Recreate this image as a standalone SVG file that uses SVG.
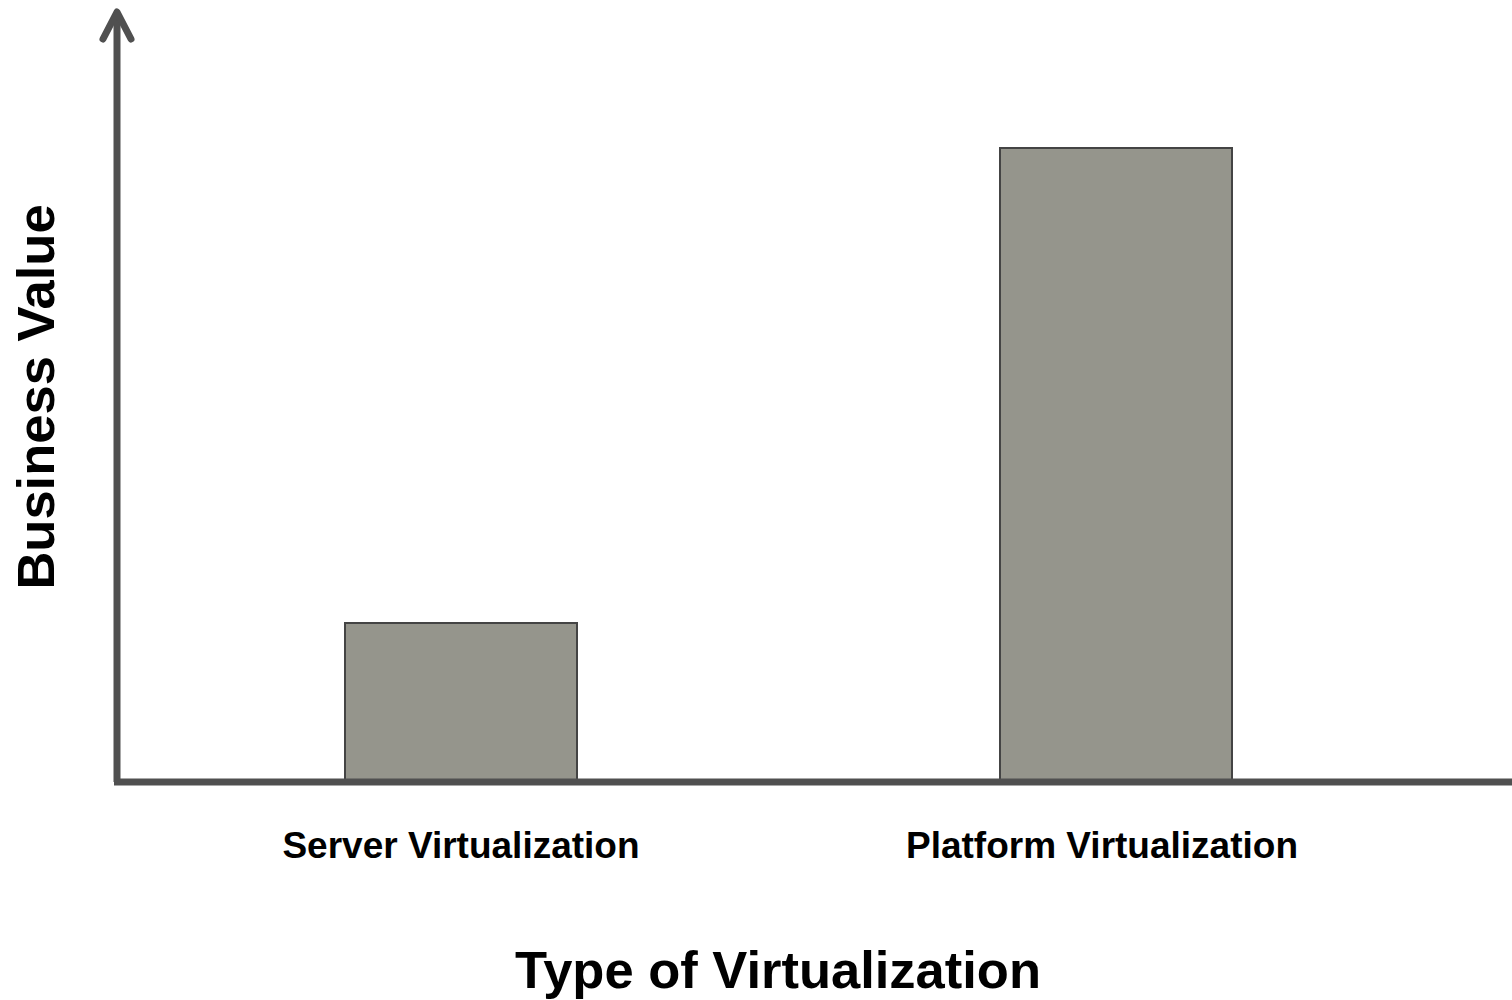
<svg xmlns="http://www.w3.org/2000/svg" width="1512" height="1000" viewBox="0 0 1512 1000">
  <style>
    .bar { fill: #95958c; stroke: #444444; stroke-width: 2; }
    .axis { fill: none; stroke: #505050; stroke-width: 7; stroke-linecap: round; stroke-linejoin: round; }
    .label { font-family: "Liberation Sans", Arial, sans-serif; font-weight: bold; fill: #000000; text-anchor: middle; }
    .cat { font-size: 37px; }
    .title { font-size: 52.5px; }
  </style>
  <rect width="1512" height="1000" fill="#ffffff"/>

  <!-- bars -->
  <g id="bar-server">
    <rect class="bar" x="345" y="623" width="232" height="157"/>
  </g>
  <g id="bar-platform">
    <rect class="bar" x="1000" y="148" width="232" height="632"/>
  </g>

  <!-- axes -->
  <g id="connectors">
    <line class="axis" x1="117" y1="782" x2="117" y2="14" style="stroke-linecap:butt"/>
    <polyline class="axis" points="103,39 117,12 131,39"/>
    <line x1="114" y1="782" x2="1512" y2="782" stroke="#505050" stroke-width="7"/>
  </g>

  <!-- labels -->
  <g id="label-server">
    <text class="label cat" x="461" y="858">Server Virtualization</text>
  </g>
  <g id="label-platform">
    <text class="label cat" x="1102" y="858">Platform Virtualization</text>
  </g>
  <g id="axis-x-title">
    <text class="label title" x="778" y="988">Type of Virtualization</text>
  </g>
  <g id="axis-y-title">
    <text class="label title" transform="translate(54,397) rotate(-90)" x="0" y="0">Business Value</text>
  </g>
</svg>
